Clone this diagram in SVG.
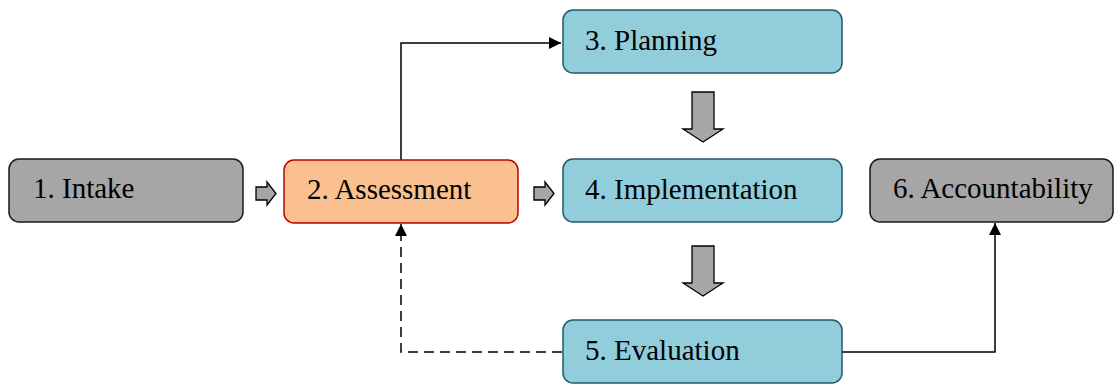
<svg xmlns="http://www.w3.org/2000/svg" width="1114" height="385" viewBox="0 0 1114 385">
<style>
.gray{fill:#a6a6a6;stroke:#1a1a1a;stroke-width:1.5}
.teal{fill:#92cddc;stroke:#215a69;stroke-width:1.5}
.orange{fill:#fac090;stroke:#c00000;stroke-width:1.5}
.lbl{font-family:"Liberation Serif","Times New Roman",serif;font-size:29px;fill:#000}
.con{fill:none;stroke:#000;stroke-width:1.5}
.blk{fill:#a6a6a6;stroke:#000;stroke-width:1.3;stroke-linejoin:miter}
</style>
<defs>
<marker id="ah2" viewBox="0 0 12 12" refX="12" refY="6" markerWidth="12" markerHeight="12" markerUnits="userSpaceOnUse" orient="auto">
<path d="M0,0 L12,6 L0,12 Z" fill="#000"/>
</marker>
</defs>
<g id="connectors">
<path class="con" d="M401,160 V43 H561" marker-end="url(#ah2)"/>
<path class="con" d="M562,352 H401 V224" stroke-dasharray="10,6" marker-end="url(#ah2)"/>
<path class="con" d="M841,352 H995 V223" marker-end="url(#ah2)"/>
<path class="blk" d="M256,187 H267 V182 L276,193.5 L267,205 V200 H256 Z"/>
<path class="blk" d="M534,187 H545 V182 L554,193.5 L545,205 V200 H534 Z"/>
<path class="blk" d="M692,92 H714 V129 H723 L703,142 L683,129 H692 Z"/>
<path class="blk" d="M692,246 H714 V283 H723 L703,296 L683,283 H692 Z"/>
</g>
<g id="node1">
<rect class="gray" x="9" y="159" width="234" height="63" rx="10"/>
<text class="lbl" x="33" y="198">1. Intake</text>
</g>
<g id="node2">
<rect class="orange" x="284" y="160" width="234" height="63" rx="10"/>
<text class="lbl" x="307" y="199">2. Assessment</text>
</g>
<g id="node3">
<rect class="teal" x="563" y="10" width="279" height="63" rx="10"/>
<text class="lbl" x="585" y="50">3. Planning</text>
</g>
<g id="node4">
<rect class="teal" x="563" y="159" width="279" height="63" rx="10"/>
<text class="lbl" x="585" y="199">4. Implementation</text>
</g>
<g id="node5">
<rect class="teal" x="563" y="320" width="279" height="63" rx="10"/>
<text class="lbl" x="585" y="360">5. Evaluation</text>
</g>
<g id="node6">
<rect class="gray" x="870" y="159" width="243" height="63" rx="10"/>
<text class="lbl" x="893" y="198">6. Accountability</text>
</g>
</svg>
